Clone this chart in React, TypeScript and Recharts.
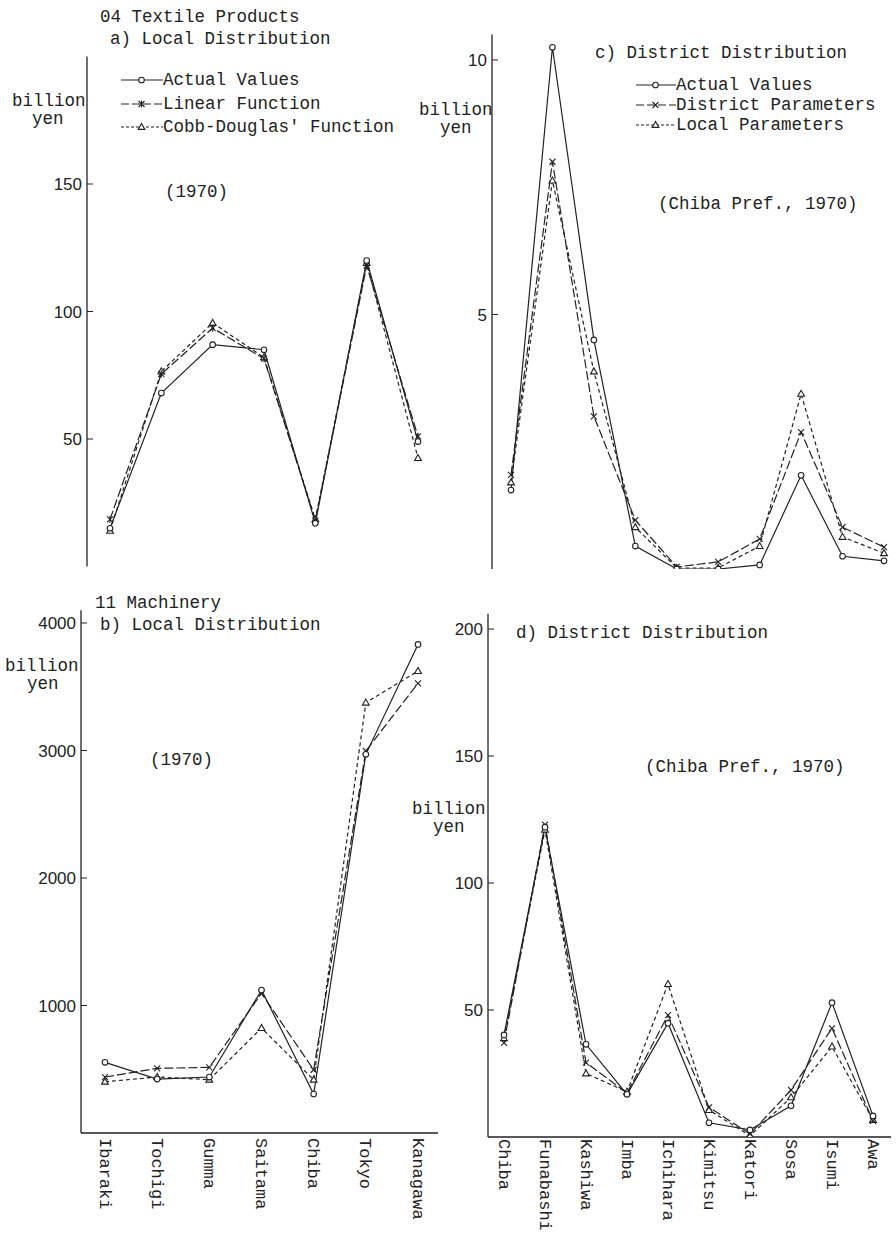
import React from "react";
import { LineChart, Line, XAxis, YAxis } from "recharts";

// categories
const PREFECTURES = ["Ibaraki", "Tochigi", "Gumma", "Saitama", "Chiba", "Tokyo", "Kanagawa"];
const DISTRICTS = ["Chiba", "Funabashi", "Kashiwa", "Imba", "Ichihara", "Kimitsu", "Katori", "Sosa", "Isumi", "Awa"];

// 04 textile products, local distribution (billion yen)
const textileActual = [15, 68, 87, 85, 17, 120, 49];
const textileLinear = [18.5, 75.5, 93.5, 81.5, 18, 118, 51];
const textileCobb = [14, 76.5, 95.5, 82, 18.5, 119, 42.5];

// 04 textile products, district distribution
const textileDistActual = [1.55, 10.25, 4.5, 0.45, 0, 0, 0.08, 1.84, 0.25, 0.16];
const textileDistDistrict = [1.85, 8.0, 3.0, 0.96, 0.04, 0.14, 0.59, 2.69, 0.82, 0.43];
const textileDistLocal = [1.7, 7.63, 3.88, 0.82, 0.02, 0.02, 0.45, 3.44, 0.63, 0.31];

// 11 machinery, local distribution
const machActual = [554, 423, 439, 1121, 306, 2970, 3832];
const machLinear = [439, 507, 515, 1095, 496, 2996, 3527];
const machCobb = [402, 439, 418, 823, 418, 3375, 3623];

// 11 machinery, district distribution
const machDistActual = [40.2, 122, 36.5, 16.8, 44.8, 5.6, 2.8, 12.3, 52.9, 8.3];
const machDistDistrict = [37.1, 123, 29.3, 17.3, 48, 11.7, 1.2, 18.5, 42.8, 6.4];
const machDistLocal = [38.9, 121, 25, 17.8, 60.2, 10.6, 0.5, 15.6, 35.6, 6.7];

const ticksA = [50, 100, 150];
const ticksB = [1000, 2000, 3000, 4000];
const ticksC = [5, 10];
const ticksD = [50, 100, 150, 200];

const INK = "#222";
const MONO = '"Liberation Mono", "DejaVu Sans Mono", monospace';
const SANS = '"Liberation Sans", Arial, sans-serif';

type Marker = "circle" | "cross" | "star" | "triangle";
type Series = { key: string; name: string; values: number[]; dash?: string; keyDash?: string; marker: Marker };

function marker(kind: Marker, cx: number, cy: number, key?: string) {
  const st = { stroke: INK, strokeWidth: 1.1, fill: "#fff" };
  if (kind === "circle") return <circle key={key} cx={cx} cy={cy} r={2.8} {...st} />;
  if (kind === "triangle")
    return <polygon key={key} points={`${cx},${cy - 3.6} ${cx - 3.4},${cy + 2.4} ${cx + 3.4},${cy + 2.4}`} {...st} />;
  const d = `M${cx - 3},${cy - 3}L${cx + 3},${cy + 3}M${cx - 3},${cy + 3}L${cx + 3},${cy - 3}` +
    (kind === "star" ? `M${cx},${cy - 3.6}L${cx},${cy + 3.6}` : "");
  return <path key={key} d={d} stroke={INK} strokeWidth={1.1} fill="none" />;
}

function makeSeries(actual: number[], second: number[], third: number[], names: string[], mid: Marker): Series[] {
  return [
    { key: "third", name: names[2], values: third, dash: "4 3", keyDash: "3 2", marker: "triangle" },
    { key: "second", name: names[1], values: second, dash: "9 3", keyDash: "8 3", marker: mid },
    { key: "actual", name: names[0], values: actual, marker: "circle" },
  ];
}

const localNames = ["Actual Values", "Linear Function", "Cobb-Douglas' Function"];
const districtNames = ["Actual Values", "District Parameters", "Local Parameters"];

function YTick(props: any) {
  const { x, y, payload } = props;
  return (
    <g>
      <line x1={x} x2={x + 6} y1={y} y2={y} stroke={INK} strokeWidth={1} />
      <text x={x - 5} y={y} dy="0.36em" textAnchor="end" fill={INK} fontSize={17} fontFamily={SANS}>
        {payload.value}
      </text>
    </g>
  );
}

function XTick(props: any) {
  const { x, y, payload } = props;
  return (
    <text x={x} y={y} dy="0.32em" transform={`rotate(90 ${x} ${y})`} textAnchor="start" fill={INK} fontSize={17} fontFamily={MONO}>
      {payload.value}
    </text>
  );
}

type PanelProps = {
  left: number; top: number; width: number; height: number;
  margin: { top: number; right: number; bottom: number; left: number };
  yWidth: number; xHeight: number; tickGap: number;
  domain: [number, number]; ticks: number[];
  pad: { left: number; right: number };
  categories: string[]; series: Series[]; labels: boolean;
};

function Panel(p: PanelProps) {
  const rows = p.categories.map((name, i) => {
    const row: Record<string, string | number> = { name };
    p.series.forEach((s) => (row[s.key] = s.values[i]));
    return row;
  });
  return (
    <div style={{ position: "absolute", left: p.left, top: p.top }}>
      <LineChart width={p.width} height={p.height} data={rows} margin={p.margin}>
        <XAxis
          dataKey="name"
          type="category"
          interval={0}
          padding={p.pad}
          height={p.xHeight}
          axisLine={{ stroke: INK, strokeWidth: 1.3 }}
          tickLine={false}
          tickSize={0}
          tickMargin={p.tickGap}
          tick={p.labels ? XTick : false}
        />
        <YAxis
          type="number"
          domain={p.domain}
          ticks={p.ticks}
          interval={0}
          width={p.yWidth}
          axisLine={{ stroke: INK, strokeWidth: 1.3 }}
          tickLine={false}
          tickSize={0}
          tickMargin={0}
          tick={YTick}
          allowDataOverflow
        />
        {p.series.map((s) => (
          <Line
            key={s.key}
            dataKey={s.key}
            name={s.name}
            type="linear"
            stroke={INK}
            strokeWidth={1.2}
            strokeDasharray={s.dash}
            dot={(d: any) => marker(s.marker, d.cx, d.cy, `${s.key}-${d.index}`)}
            activeDot={false}
            isAnimationActive={false}
          />
        ))}
      </LineChart>
    </div>
  );
}

function Label({ x, y, children }: { x: number; y: number; children: React.ReactNode }) {
  return (
    <div style={{ position: "absolute", left: x, top: y - 8, lineHeight: "16px", fontSize: 17.5, whiteSpace: "pre" }}>
      {children}
    </div>
  );
}

function Key({ x, y, gap, symW, series, firstMid }: { x: number; y: number; gap: number; symW: number; series: Series[]; firstMid: Marker }) {
  const order = [series[2], series[1], series[0]];
  return (
    <div style={{ position: "absolute", left: x, top: y - gap / 2 }}>
      {order.map((s) => (
        <div key={s.key} style={{ display: "flex", alignItems: "center", height: gap, lineHeight: "16px", fontSize: 17.5, whiteSpace: "pre" }}>
          <svg width={symW} height={12} style={{ display: "block" }}>
            <line x1={1} x2={symW} y1={6} y2={6} stroke={INK} strokeWidth={1.2} strokeDasharray={s.keyDash} />
            {marker(s.key === "second" ? firstMid : s.marker, symW / 2, 6)}
          </svg>
          <span>{s.name}</span>
        </div>
      ))}
    </div>
  );
}

export default function App() {
  const sa = makeSeries(textileActual, textileLinear, textileCobb, localNames, "star");
  const sb = makeSeries(machActual, machLinear, machCobb, localNames, "cross");
  const sc = makeSeries(textileDistActual, textileDistDistrict, textileDistLocal, districtNames, "cross");
  const sd = makeSeries(machDistActual, machDistDistrict, machDistLocal, districtNames, "cross");

  return (
    <div style={{ position: "absolute", left: 0, top: 0, width: 896, height: 1234, background: "#fff", color: INK, fontFamily: MONO, overflow: "hidden" }}>
      <Panel left={0} top={0} width={448} height={580} margin={{ top: 56.5, right: 0, bottom: 13.5, left: 0 }}
        yWidth={87} xHeight={0} tickGap={0} domain={[0, 200]} ticks={ticksA} pad={{ left: 23, right: 30 }}
        categories={PREFECTURES} series={sa} labels={false} />
      <Panel left={448} top={0} width={448} height={580} margin={{ top: 34.5, right: 0, bottom: 11, left: 0 }}
        yWidth={44} xHeight={0} tickGap={0} domain={[0, 10.5]} ticks={ticksC} pad={{ left: 19, right: 12 }}
        categories={DISTRICTS} series={sc} labels={false} />
      <Panel left={0} top={580} width={448} height={654} margin={{ top: 30.25, right: 10, bottom: 6, left: 0 }}
        yWidth={81} xHeight={95} tickGap={5} domain={[0, 4100]} ticks={ticksB} pad={{ left: 24, right: 20 }}
        categories={PREFECTURES} series={sb} labels />
      <Panel left={448} top={580} width={448} height={654} margin={{ top: 33.8, right: 5, bottom: 5, left: 0 }}
        yWidth={40} xHeight={92} tickGap={2} domain={[0, 206]} ticks={ticksD} pad={{ left: 16, right: 18 }}
        categories={DISTRICTS} series={sd} labels />

      <Label x={100} y={17}>04 Textile Products</Label>
      <Label x={110} y={39}>a) Local Distribution</Label>
      <Label x={12} y={101}>billion</Label>
      <Label x={32} y={119}>yen</Label>
      <Label x={165} y={192}>(1970)</Label>
      <Key x={120} y={80} gap={23.5} symW={43} series={sa} firstMid="star" />

      <Label x={595} y={53}>c) District Distribution</Label>
      <Label x={419} y={110}>billion</Label>
      <Label x={440} y={128}>yen</Label>
      <Label x={658} y={204}>(Chiba Pref., 1970)</Label>
      <Key x={635} y={85} gap={20} symW={41} series={sc} firstMid="cross" />

      <Label x={95} y={603}>11 Machinery</Label>
      <Label x={100} y={625}>b) Local Distribution</Label>
      <Label x={5} y={666}>billion</Label>
      <Label x={27} y={684}>yen</Label>
      <Label x={150} y={760}>(1970)</Label>

      <Label x={516} y={633}>d) District Distribution</Label>
      <Label x={412} y={809}>billion</Label>
      <Label x={433} y={827}>yen</Label>
      <Label x={645} y={767}>(Chiba Pref., 1970)</Label>
    </div>
  );
}
